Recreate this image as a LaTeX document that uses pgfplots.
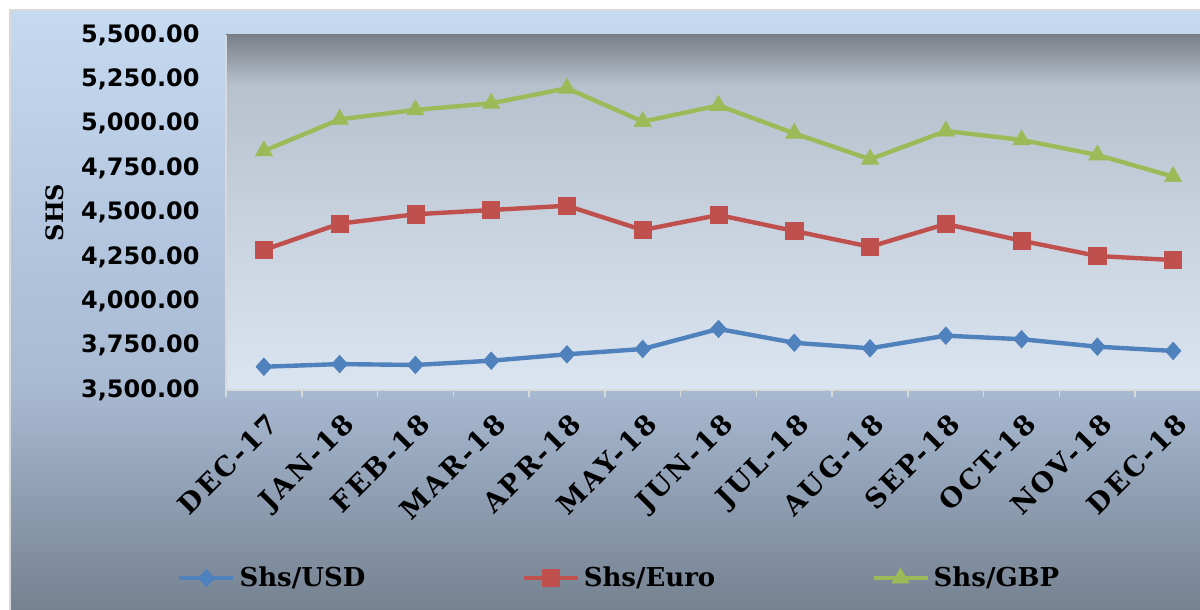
\documentclass[border=0pt]{standalone}
\usepackage{fontspec}
\setmainfont{DejaVu Serif}
\newfontfamily\numfont{DejaVu Sans}
\newfontfamily\lblfont[LetterSpace=10]{DejaVu Serif}
\usepackage{pgfplots}
\pgfplotsset{compat=1.18}

\definecolor{usd}{RGB}{79,129,189}
\definecolor{eur}{RGB}{192,80,77}
\definecolor{gbp}{RGB}{155,187,89}
\definecolor{axisgray}{RGB}{217,217,217}
\definecolor{ob0}{RGB}{114,127,142}
\definecolor{ob1}{RGB}{168,185,210}
\definecolor{ob2}{RGB}{197,217,241}
\definecolor{pb0}{RGB}{219,229,241}
\definecolor{pb1}{RGB}{199,209,221}
\definecolor{pb2}{RGB}{183,193,205}
\definecolor{pb3}{RGB}{152,159,169}
\definecolor{pb4}{RGB}{122,128,137}

% path spans 25bp..75bp of a declared shading
\pgfdeclareverticalshading{outerbg}{100bp}{color(0bp)=(ob0); color(25bp)=(ob0); color(44bp)=(ob1); color(75bp)=(ob2); color(100bp)=(ob2)}
\pgfdeclareverticalshading{plotbg}{100bp}{color(0bp)=(pb0); color(25bp)=(pb0); color(50bp)=(pb1); color(68bp)=(pb2); color(71.5bp)=(pb3); color(75bp)=(pb4); color(100bp)=(pb4)}

\begin{document}
\begin{tikzpicture}
\useasboundingbox (0,0) rectangle (600pt,305pt);
\clip (0,0) rectangle (600pt,305pt);
\fill[white] (0,0) rectangle (600pt,305pt);
\shade[shading=outerbg] (5pt,-5pt) rectangle (605pt,300pt);
\draw[line width=1pt, axisgray] (5pt,-5pt) rectangle (605pt,300pt);
\begin{axis}[
  at={(113pt,110pt)}, anchor=south west,
  scale only axis, width=492.5pt, height=177.5pt,
  xmin=-0.5, xmax=12.5, ymin=3500, ymax=5500,
  xtick={0,...,12},
  xticklabels={DEC-17,JAN-18,FEB-18,MAR-18,APR-18,MAY-18,JUN-18,JUL-18,AUG-18,SEP-18,OCT-18,NOV-18,DEC-18},
  minor xtick={-0.5,0.5,...,12.5},
  ytick={3500,3750,...,5500},
  axis lines*=left,
  axis line style={axisgray, line width=0.75pt},
  major tick length=0pt, minor tick length=3.5pt,
  tick align=outside,
  minor x tick style={axisgray, line width=0.75pt},
  ytick style={draw=none},
  yticklabel style={font=\numfont\bfseries\fontsize{12}{14}\selectfont,
    inner sep=0pt, xshift=-13pt, anchor=east,
    /pgf/number format/fixed, /pgf/number format/fixed zerofill,
    /pgf/number format/precision=2, /pgf/number format/1000 sep={,},
    /pgf/number format/assume math mode=true},
  xticklabel style={font=\lblfont\bfseries\fontsize{13.5}{15}\selectfont,
    inner sep=0pt, yshift=-10.5pt, xshift=1pt, rotate=45, anchor=north east},
  ylabel={SHS},
  ylabel style={font=\bfseries\fontsize{12}{14}\selectfont,
    at={(axis description cs:-0.1736,0.5)}, anchor=center},
  axis background/.style={shading=plotbg},
  legend columns=3,
  legend style={draw=none, fill=none, inner sep=0pt,
    at={(axis description cs:-0.05,-0.53)}, anchor=west,
    font=\bfseries\fontsize{13}{15}\selectfont,
    nodes={inner sep=0pt},
    /tikz/every odd column/.append style={column sep=2pt},
    /tikz/every even column/.append style={column sep=78pt}},
  legend image code/.code={\draw[mark repeat=2, mark phase=2]
    plot coordinates {(0pt,0pt) (13.5pt,0pt) (27pt,0pt)};},
]
\addplot[usd, line width=2.2pt, mark=diamond*, mark size=4.4pt,
  mark options={solid, xscale=1.2, line width=0.3pt}] coordinates {
  (0,3631) (1,3646) (2,3641) (3,3665) (4,3701) (5,3731) (6,3844)
  (7,3766) (8,3735) (9,3806) (10,3786) (11,3744) (12,3720)};
\addlegendentry{Shs/USD}
\addplot[eur, line width=2.2pt, mark=square*, mark size=4.3pt,
  mark options={solid, line width=0.3pt}] coordinates {
  (0,4289) (1,4437) (2,4490) (3,4514) (4,4538) (5,4401) (6,4486)
  (7,4396) (8,4307) (9,4435) (10,4341) (11,4255) (12,4232)};
\addlegendentry{Shs/Euro}
\addplot[gbp, line width=2.2pt, mark=triangle*, mark size=5pt,
  mark options={solid, line width=0.3pt}] coordinates {
  (0,4847) (1,5025) (2,5078) (3,5115) (4,5200) (5,5012) (6,5103)
  (7,4946) (8,4800) (9,4959) (10,4909) (11,4824) (12,4702)};
\addlegendentry{Shs/GBP}
\end{axis}
\end{tikzpicture}
\end{document}
